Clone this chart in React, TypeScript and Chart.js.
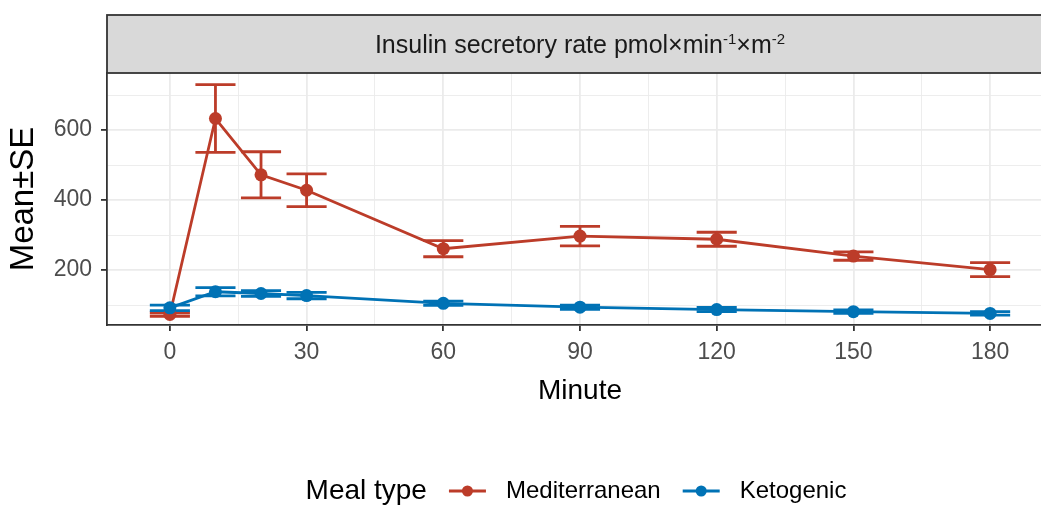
import React, { useEffect, useRef } from 'react';
import { Chart, registerables } from 'chart.js';

Chart.register(...registerables);

// ---- data ----
const minutes = [0, 10, 20, 30, 60, 90, 120, 150, 180];
const mediterraneanMean = [73, 633, 472, 428, 261, 297, 288, 240, 201];
const mediterraneanSE = [5, 97, 66, 47, 23, 28, 20, 12, 20];
const ketogenicMean = [92, 138, 133, 127, 105, 94, 87, 81, 76];
const ketogenicSE = [8, 12, 8, 9, 6, 6, 6, 5, 5];
const seriesNames = ['Mediterranean', 'Ketogenic'];
const xTickValues = [0, 15, 30, 45, 60, 75, 90, 105, 120, 135, 150, 165, 180];
const xLabelValues = [0, 30, 60, 90, 120, 150, 180];
const yTickValues = [100, 200, 300, 400, 500, 600, 700];
const yLabelValues = [200, 400, 600];
const stripTitle = ['Insulin secretory rate pmol×min', '-1', '×m', '-2'];
const legendTitle = 'Meal type';
const xTitle = 'Minute';
const yTitle = 'Mean±SE';

const RED = '#BC3C29';
const BLUE = '#0072B5';
const SANS = "'Liberation Sans', Arial, Helvetica, sans-serif";
const ERR_HALF_WIDTH = 4.4; // minutes

const errorBarPlugin = {
  id: 'errorBars',
  beforeDatasetsDraw(chart: any) {
    const { ctx, chartArea } = chart;
    const xs = chart.scales.x;
    const ys = chart.scales.y;
    const groups = [
      { mean: mediterraneanMean, se: mediterraneanSE, color: RED },
      { mean: ketogenicMean, se: ketogenicSE, color: BLUE },
    ];
    ctx.save();
    ctx.beginPath();
    ctx.rect(chartArea.left, chartArea.top, chartArea.right - chartArea.left, chartArea.bottom - chartArea.top);
    ctx.clip();
    ctx.lineWidth = 2.8;
    ctx.lineCap = 'butt';
    groups.forEach((g) => {
      ctx.strokeStyle = g.color;
      minutes.forEach((m, i) => {
        const x = xs.getPixelForValue(m);
        const xl = xs.getPixelForValue(m - ERR_HALF_WIDTH);
        const xr = xs.getPixelForValue(m + ERR_HALF_WIDTH);
        const yh = ys.getPixelForValue(g.mean[i] + g.se[i]);
        const yl = ys.getPixelForValue(g.mean[i] - g.se[i]);
        ctx.beginPath();
        ctx.moveTo(x, yh);
        ctx.lineTo(x, yl);
        ctx.moveTo(xl, yh);
        ctx.lineTo(xr, yh);
        ctx.moveTo(xl, yl);
        ctx.lineTo(xr, yl);
        ctx.stroke();
      });
    });
    ctx.restore();
  },
};

const stripPlugin = {
  id: 'strip',
  afterDraw(chart: any) {
    const { ctx, chartArea } = chart;
    const top = 15;
    const bottom = chartArea.top;
    ctx.save();
    ctx.fillStyle = '#D9D9D9';
    ctx.fillRect(chartArea.left, top, chart.width - chartArea.left + 10, bottom - top);
    ctx.strokeStyle = '#333333';
    ctx.lineWidth = 1.8;
    ctx.strokeRect(chartArea.left, top, chart.width - chartArea.left + 10, bottom - top);
    const big = `25px ${SANS}`;
    const small = `15px ${SANS}`;
    const parts = [
      { t: stripTitle[0], f: big, dy: 0 },
      { t: stripTitle[1], f: small, dy: -9 },
      { t: stripTitle[2], f: big, dy: 0 },
      { t: stripTitle[3], f: small, dy: -9 },
    ];
    let total = 0;
    parts.forEach((p) => {
      ctx.font = p.f;
      total += ctx.measureText(p.t).width;
    });
    let x = (chartArea.left + chartArea.right) / 2 - total / 2;
    const baseline = (top + bottom) / 2 + 9;
    ctx.fillStyle = '#1A1A1A';
    ctx.textBaseline = 'alphabetic';
    ctx.textAlign = 'left';
    parts.forEach((p) => {
      ctx.font = p.f;
      ctx.fillText(p.t, x, baseline + p.dy);
      x += ctx.measureText(p.t).width;
    });
    ctx.restore();
  },
};

const legendPlugin = {
  id: 'mealLegend',
  afterDraw(chart: any) {
    const { ctx, chartArea } = chart;
    const y = 491;
    const colors = [RED, BLUE];
    const titleFont = `28px ${SANS}`;
    const labelFont = `24px ${SANS}`;
    ctx.save();
    ctx.textBaseline = 'middle';
    ctx.textAlign = 'left';
    ctx.font = titleFont;
    const titleW = ctx.measureText(legendTitle).width;
    ctx.font = labelFont;
    const labelWs = seriesNames.map((n) => ctx.measureText(n).width);
    const keyW = 37;
    const gapTK = 22;
    const gapKL = 20;
    const gapLK = 22;
    const total = titleW + gapTK + keyW + gapKL + labelWs[0] + gapLK + keyW + gapKL + labelWs[1];
    let x = (chartArea.left + chartArea.right) / 2 - 4 - total / 2;
    ctx.fillStyle = '#000000';
    ctx.font = titleFont;
    ctx.fillText(legendTitle, x, y);
    x += titleW + gapTK;
    seriesNames.forEach((name, i) => {
      ctx.strokeStyle = colors[i];
      ctx.fillStyle = colors[i];
      ctx.lineWidth = 2.8;
      ctx.beginPath();
      ctx.moveTo(x, y);
      ctx.lineTo(x + keyW, y);
      ctx.stroke();
      ctx.beginPath();
      ctx.arc(x + keyW / 2, y, 5.5, 0, Math.PI * 2);
      ctx.fill();
      x += keyW + gapKL;
      ctx.fillStyle = '#000000';
      ctx.font = labelFont;
      ctx.fillText(name, x, y);
      x += labelWs[i] + gapLK;
    });
    ctx.restore();
  },
};

export default function App() {
  const canvasRef = useRef<HTMLCanvasElement | null>(null);

  useEffect(() => {
    if (!canvasRef.current) return;
    const chart = new Chart(canvasRef.current, {
      type: 'line',
      data: {
        datasets: [
          {
            label: seriesNames[0],
            data: minutes.map((m, i) => ({ x: m, y: mediterraneanMean[i] })),
            borderColor: RED,
            backgroundColor: RED,
            borderWidth: 2.8,
            pointRadius: 6.5,
            pointBorderWidth: 0,
            pointBackgroundColor: RED,
            tension: 0,
            order: 1,
          },
          {
            label: seriesNames[1],
            data: minutes.map((m, i) => ({ x: m, y: ketogenicMean[i] })),
            borderColor: BLUE,
            backgroundColor: BLUE,
            borderWidth: 2.8,
            pointRadius: 6.5,
            pointBorderWidth: 0,
            pointBackgroundColor: BLUE,
            tension: 0,
            order: 0,
          },
        ],
      },
      options: {
        responsive: true,
        maintainAspectRatio: false,
        animation: false,
        events: [],
        layout: { padding: { top: 73, left: 0, right: 17, bottom: 80 } },
        plugins: {
          legend: { display: false },
          tooltip: { enabled: false },
          title: { display: false },
        },
        scales: {
          x: {
            type: 'linear',
            min: -13.8,
            max: 193.8,
            afterBuildTicks: (s: any) => {
              s.ticks = xTickValues.map((v) => ({ value: v }));
            },
            afterFit: (s: any) => {
              s.height = 100;
            },
            grid: {
              color: '#EBEBEB',
              lineWidth: (c: any) => (c.tick && xLabelValues.includes(c.tick.value) ? 1.8 : 0.9),
              drawTicks: true,
              tickLength: 6,
              tickWidth: 1.8,
              tickColor: (c: any) => (c.tick && xLabelValues.includes(c.tick.value) ? '#333333' : 'rgba(0,0,0,0)'),
            },
            border: { display: true, color: '#333333', width: 1.8 },
            ticks: {
              autoSkip: false,
              maxRotation: 0,
              minRotation: 0,
              padding: 8,
              color: '#4D4D4D',
              font: { family: SANS, size: 23, lineHeight: 1.2 },
              callback: (v: any) => (xLabelValues.includes(Number(v)) ? String(v) : ''),
            },
            title: {
              display: true,
              text: xTitle,
              color: '#000000',
              font: { family: SANS, size: 28, lineHeight: 1 },
              padding: { top: 0, bottom: 20 },
            },
          },
          y: {
            type: 'linear',
            min: 43,
            max: 763,
            afterBuildTicks: (s: any) => {
              s.ticks = yTickValues.map((v) => ({ value: v }));
            },
            afterFit: (s: any) => {
              s.width = 107;
            },
            grid: {
              color: '#EBEBEB',
              lineWidth: (c: any) => (c.tick && yLabelValues.includes(c.tick.value) ? 1.8 : 0.9),
              drawTicks: true,
              tickLength: 6,
              tickWidth: 1.8,
              tickColor: (c: any) => (c.tick && yLabelValues.includes(c.tick.value) ? '#333333' : 'rgba(0,0,0,0)'),
            },
            border: { display: true, color: '#333333', width: 1.8 },
            ticks: {
              autoSkip: false,
              padding: 9,
              color: '#4D4D4D',
              font: { family: SANS, size: 23, lineHeight: 1.2 },
              callback: (v: any) => (yLabelValues.includes(Number(v)) ? String(v) : ''),
            },
            title: {
              display: true,
              text: yTitle,
              color: '#000000',
              font: { family: SANS, size: 33, lineHeight: 1 },
              padding: { top: 7.5, bottom: 0 },
            },
          },
        },
      },
      plugins: [errorBarPlugin, stripPlugin, legendPlugin],
    } as any);
    return () => chart.destroy();
  }, []);

  return (
    <div style={{ position: 'fixed', left: 0, top: 0, width: 1041, height: 505, overflow: 'hidden', background: '#ffffff' }}>
      <div style={{ position: 'relative', width: 1070, height: 505 }}>
        <canvas ref={canvasRef} />
      </div>
    </div>
  );
}
